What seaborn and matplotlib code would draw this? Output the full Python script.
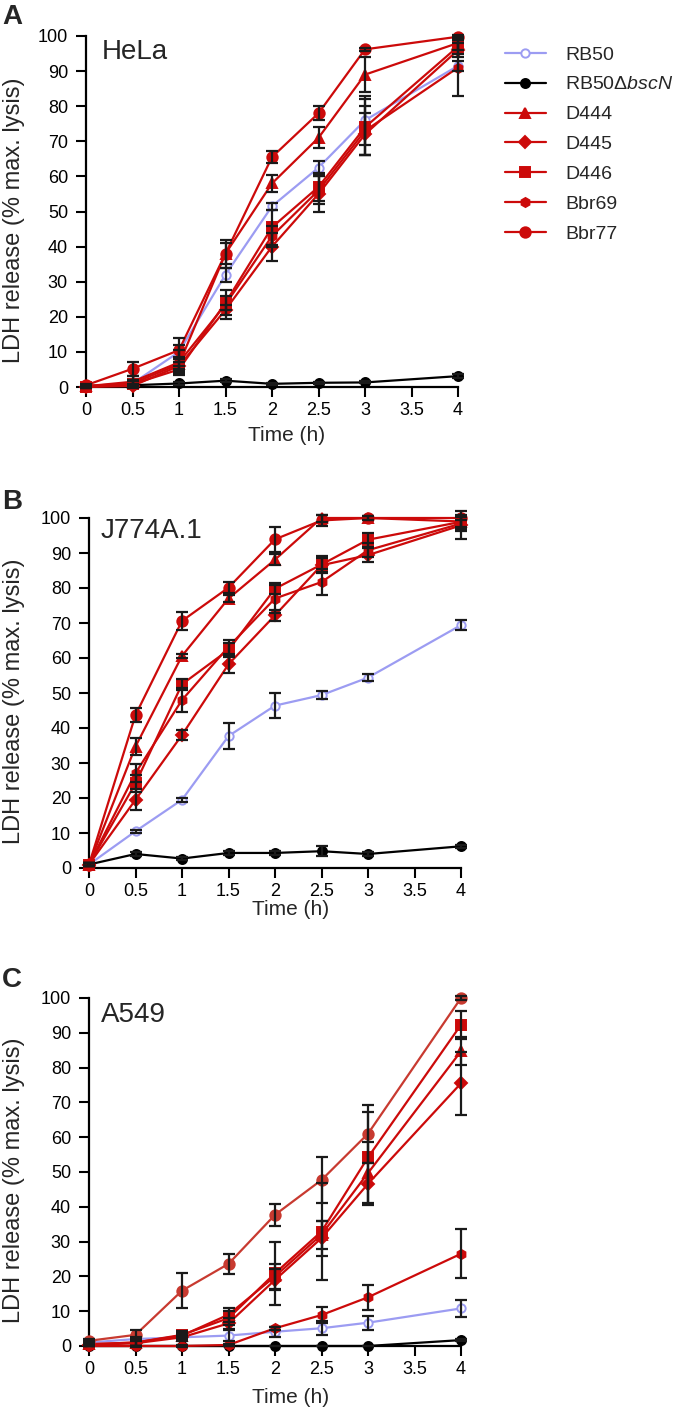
import numpy as np
import pandas as pd
import matplotlib
matplotlib.use("Agg")
import matplotlib.pyplot as plt
from matplotlib.lines import Line2D
import seaborn as sns

# ---------------- data ----------------
times = [0, 0.5, 1, 1.5, 2, 2.5, 3, 4]
time_ticks = [0, 0.5, 1, 1.5, 2, 2.5, 3, 3.5, 4]
time_labels = ["0", "0.5", "1", "1.5", "2", "2.5", "3", "3.5", "4"]
ldh_ticks = [0, 10, 20, 30, 40, 50, 60, 70, 80, 90, 100]
strains = ["RB50", "RB50\u0394bscN", "D444", "D445", "D446", "Bbr69", "Bbr77"]
cell_lines = ["HeLa", "J774A.1", "A549"]
panel_letters = ["A", "B", "C"]

# HeLa (rows follow `strains`)
hela_mean = [
    [0, 1, 10, 32, 51.5, 62.5, 76, 91.5],
    [0.3, 0.5, 1.0, 1.8, 0.9, 1.2, 1.3, 3.1],
    [0.3, 1.0, 6.5, 38, 58, 71, 89, 98],
    [0, 0.3, 6, 22, 40, 55, 72, 96],
    [0, 0.8, 5, 24, 45.5, 57, 74, 97],
    [0.2, 1.5, 7, 23.5, 43, 56, 73, 91],
    [0.5, 5.2, 10.5, 38, 65.5, 78, 96.2, 99.8],
]
hela_err = [
    [0.3, 1, 2, 2, 1, 2, 7, 1.5],
    [0.2, 0.3, 0.3, 0.4, 0.3, 0.3, 0.3, 0.5],
    [0.3, 1, 2, 3, 2.5, 3, 5, 2],
    [0.2, 0.5, 1, 1.5, 4, 5, 6, 2],
    [0.2, 0.8, 1, 2, 5, 4, 8, 2],
    [0.2, 1.5, 3.5, 4, 3, 4, 7, 8],
    [0.3, 2, 3.5, 4, 1.7, 2, 0.5, 0.5],
]

# J774A.1
j774_mean = [
    [1, 10.5, 19.5, 37.7, 46.4, 49.4, 54.4, 69.4],
    [1, 4, 2.7, 4.3, 4.3, 4.8, 4, 6.2],
    [1, 34.7, 60.6, 77, 88.1, 100, 100, 99],
    [1, 19.5, 38, 58.2, 72.2, 86.5, 89.4, 97.9],
    [1, 24.2, 52.5, 62.3, 79.8, 86.7, 93.8, 98.9],
    [1, 27.1, 48, 63.2, 77, 81.7, 90.8, 98.4],
    [1, 43.7, 70.6, 80.1, 93.9, 99.3, 100, 100],
]
j774_err = [
    [0.3, 0.5, 0.5, 3.8, 3.5, 1.2, 1, 1.5],
    [0.3, 0.5, 0.5, 0.5, 0.5, 1.5, 0.5, 0.5],
    [0.5, 2.5, 0.5, 1, 1.5, 1, 0.5, 1.5],
    [0.5, 3, 1.5, 2.5, 1.5, 2, 2, 4],
    [0.5, 2.5, 1.5, 2, 1.5, 2.5, 2, 2],
    [0.5, 2.5, 3.5, 2, 4, 3.7, 2, 2],
    [0.5, 2, 2.5, 1.5, 3.5, 1.5, 0.5, 0.5],
]

# A549
a549_mean = [
    [1, 2, 2.5, 3, 4.1, 5.1, 6.7, 10.8],
    [0, 0, 0, 0, 0, 0, 0, 1.7],
    [0.5, 1, 3, 9, 20, 32, 49.7, 84.7],
    [0.3, 0.8, 2.5, 6.5, 19, 31, 46.6, 75.5],
    [0.5, 1, 3.2, 8, 20.9, 32.9, 54.2, 92.3],
    [0, 0, 0, 0.3, 5.1, 8.9, 14, 26.5],
    [1.5, 3.2, 15.9, 23.6, 37.7, 47.7, 61, 100],
]
a549_err = [
    [0.3, 0.5, 0.5, 1.5, 1.5, 2, 2, 2.5],
    [0.1, 0.1, 0.1, 0.1, 0.1, 0.1, 0.1, 0.3],
    [0.3, 1, 1, 2, 3.5, 4, 9, 4],
    [0.3, 1, 1, 1.5, 3, 5, 6, 9],
    [0.3, 1, 1, 2, 9, 14, 13, 4],
    [0.1, 0.1, 0.2, 0.3, 0.5, 2.2, 3.6, 7],
    [0.5, 1.5, 5, 2.9, 3.2, 6.6, 8.3, 0.5],
]

panel_means = [hela_mean, j774_mean, a549_mean]
panel_errs = [hela_err, j774_err, a549_err]

# ---------------- style ----------------
sns.set_theme(style="ticks")
plt.rcParams["font.family"] = ["Liberation Sans", "DejaVu Sans"]
plt.rcParams["mathtext.fontset"] = "custom"
plt.rcParams["mathtext.rm"] = "Liberation Sans"
plt.rcParams["mathtext.it"] = "Liberation Sans:italic"

RED = "#cc0a0a"
BLUE = "#9c9cf2"
styles = {
    "RB50": dict(color=BLUE, marker="o", ms=6.0, mfc="white", lw=1.6),
    "RB50\u0394bscN": dict(color="black", marker="o", ms=6.5, mfc="black", lw=1.6),
    "D444": dict(color=RED, marker="^", ms=7.5, mfc=RED, lw=1.6),
    "D445": dict(color=RED, marker="D", ms=6.0, mfc=RED, lw=1.6),
    "D446": dict(color=RED, marker="s", ms=6.5, mfc=RED, lw=1.6),
    "Bbr69": dict(color=RED, marker="h", ms=6.5, mfc=RED, lw=1.6),
    "Bbr77": dict(color=RED, marker="o", ms=7.5, mfc=RED, lw=1.6),
}
legend_labels = ["RB50", r"RB50$\Delta\it{bscN}$", "D444", "D445", "D446", "Bbr69", "Bbr77"]

W, H = 685, 1412
fig = plt.figure(figsize=(W / 100, H / 100), dpi=100)

# axes rectangles in pixels: (left, right, top(y=100), bottom(y=0))
rects_px = [(86, 458, 36, 387), (89, 461, 518, 868), (89, 461, 998, 1346)]
xlabel_coords = [(0.538, -0.111), (0.543, -0.091), (0.543, -0.121)]
letter_base = [24, 509, 987]
label_pos = [(0.043, 0.934), (0.032, 0.943), (0.032, 0.932)]

for p in range(3):
    l, r, t, b = rects_px[p]
    ax = fig.add_axes([l / W, 1 - b / H, (r - l) / W, (b - t) / H])
    rows = []
    for s, name in enumerate(strains):
        for k, tm in enumerate(times):
            rows.append(dict(time=tm, ldh=panel_means[p][s][k],
                             err=panel_errs[p][s][k], strain=name))
    df = pd.DataFrame(rows)
    for s, name in enumerate(strains):
        st = styles[name]
        sub = df[df.strain == name]
        col = st["color"]
        if p == 2 and name == "Bbr77":
            col = "#c83a30"
        zo = 3 if name not in ("RB50", "RB50\u0394bscN") else 2.5
        sns.lineplot(data=sub, x="time", y="ldh", ax=ax, color=col,
                     marker=st["marker"], markersize=st["ms"],
                     markerfacecolor=st["mfc"] if st["mfc"] != RED else col,
                     markeredgecolor=col, markeredgewidth=1.4,
                     linewidth=st["lw"], errorbar=None, estimator=None,
                     clip_on=False, zorder=zo)
        ax.errorbar(sub["time"], sub["ldh"], yerr=sub["err"], fmt="none",
                    ecolor="#1a1a1a", elinewidth=1.6, capsize=4.5,
                    capthick=1.6, clip_on=False, zorder=4)
    ax.set_xlim(0, 4)
    ax.set_ylim(0, 100)
    ax.set_xticks(time_ticks)
    ax.set_xticklabels(time_labels)
    ax.set_yticks(ldh_ticks)
    sns.despine(ax=ax)
    for sp in ("left", "bottom"):
        ax.spines[sp].set_linewidth(1.6)
        ax.spines[sp].set_color("black")
    ax.tick_params(axis="both", direction="out", length=7, width=1.5,
                   labelsize=13, colors="black")
    ax.tick_params(axis="x", pad=4)
    ax.tick_params(axis="y", pad=6)
    ax.set_xlabel("Time (h)", fontsize=15)
    ax.xaxis.set_label_coords(*xlabel_coords[p])
    ax.set_ylabel("LDH release (% max. lysis)", fontsize=17)
    ax.yaxis.set_label_coords((25 - l) / (r - l), 0.475)
    ax.text(label_pos[p][0], label_pos[p][1], cell_lines[p],
            transform=ax.transAxes, fontsize=20, va="baseline", ha="left")
    fig.text(2 / W, 1 - letter_base[p] / H, panel_letters[p], fontsize=20,
             fontweight="bold", va="baseline", ha="left")

handles = []
for name in strains:
    st = styles[name]
    handles.append(Line2D([0], [0], color=st["color"], marker=st["marker"],
                          markersize=st["ms"], markerfacecolor=st["mfc"],
                          markeredgecolor=st["color"], markeredgewidth=1.4,
                          linewidth=st["lw"]))
fig.legend(handles, legend_labels, loc="upper left",
           bbox_to_anchor=(505 / W, 1 - 46 / H), frameon=False, fontsize=14,
           handlelength=2.1, handletextpad=1.0, labelspacing=0.63,
           borderpad=0, borderaxespad=0)

fig.savefig("out.png", dpi=100)
